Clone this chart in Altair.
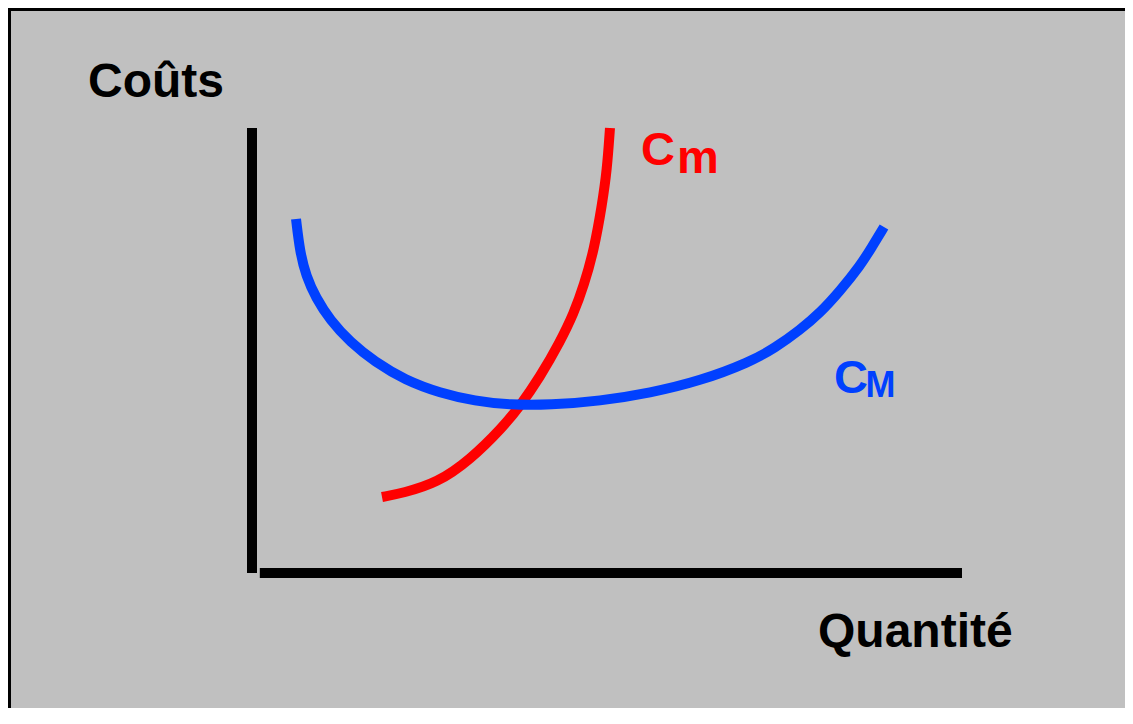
import altair as alt
import pandas as pd

# Marginal cost curve (Cm), red
cm_q = [1.831, 2.127, 2.606, 3.070, 3.535, 3.775, 4.056, 4.338, 4.535, 4.676, 4.817, 4.930, 5.000, 5.042]
cm_c = [1.708, 1.798, 2.022, 2.539, 3.281, 3.753, 4.404, 5.191, 5.843, 6.472, 7.258, 8.270, 9.056, 10.000]

# Average cost curve (CM), blue
cM_q = [0.620, 0.676, 0.761, 0.901, 1.099, 1.380, 1.732, 2.155, 2.648, 3.141, 3.634, 4.197,
        4.901, 5.606, 6.310, 7.014, 7.366, 7.718, 8.000, 8.282, 8.563, 8.732, 8.901]
cM_c = [7.955, 7.213, 6.674, 6.180, 5.685, 5.191, 4.742, 4.337, 4.045, 3.865, 3.775, 3.775,
        3.865, 4.045, 4.315, 4.742, 5.056, 5.461, 5.843, 6.337, 6.899, 7.326, 7.775]

# Diagram axes (quantity axis and cost axis)
axis_x = [0.0, 0.11]
axis_y = [0.0, 0.0]
axis_x2 = [0.0, 10.0]
axis_y2 = [10.0, 0.0]

# Labels
label_text = ["Coûts", "Quantité", "C", "m", "C", "M"]
label_x = [-2.31, 7.972, 5.479, 5.986, 8.197, 8.641]
label_y = [10.697, -1.663, 9.169, 8.989, 4.045, 3.955]
label_color = ["#000000", "#000000", "#FF0000", "#FF0000", "#0040FF", "#0040FF"]
label_size = [48, 48, 47, 47, 47, 36]

X_DOMAIN = [-3.3944, 12.2958]
Y_DOMAIN = [-3.0337, 12.6292]

cm_df = pd.DataFrame({"x": cm_q, "y": cm_c})
cM_df = pd.DataFrame({"x": cM_q, "y": cM_c})
axes_df = pd.DataFrame({"x": axis_x, "y": axis_y, "x2": axis_x2, "y2": axis_y2})
labels_df = pd.DataFrame({"text": label_text, "x": label_x, "y": label_y,
                          "color": label_color, "size": label_size})

xs = alt.Scale(domain=X_DOMAIN, nice=False, zero=False)
ys = alt.Scale(domain=Y_DOMAIN, nice=False, zero=False)

X = alt.X("x:Q", scale=xs, axis=None)
Y = alt.Y("y:Q", scale=ys, axis=None)

diagram_axes = alt.Chart(axes_df).mark_rule(color="#000000", strokeWidth=10, strokeCap="butt").encode(
    x=X, y=Y, x2="x2:Q", y2="y2:Q",
)

red = alt.Chart(cm_df).mark_line(color="#FF0000", strokeWidth=10, strokeCap="butt",
                                 interpolate="basis").encode(
    x=X, y=Y, order="x:Q",
)

blue = alt.Chart(cM_df).mark_line(color="#0040FF", strokeWidth=10, strokeCap="butt",
                                  interpolate="basis").encode(
    x=X, y=Y, order="x:Q",
)

labels = alt.Chart(labels_df).mark_text(font="Liberation Sans", fontWeight="bold",
                                        align="left", baseline="alphabetic").encode(
    x=X, y=Y,
    text="text:N",
    color=alt.Color("color:N", scale=None),
    size=alt.Size("size:Q", scale=None),
)

# Black chart background shows only in the thin left and top padding strips,
# forming the panel's left and top border; the grey view fills the rest.
chart = alt.layer(diagram_axes, red, blue, labels).properties(
    width=1114,
    height=697,
    autosize=alt.AutoSizeParams(type="none"),
    padding={"left": 3, "top": 3, "right": 0, "bottom": 0},
    background="#000000",
).configure_view(fill="#C0C0C0", stroke="transparent", strokeWidth=0)

chart.save("out.html", embed_options={"renderer": "svg", "actions": False})
